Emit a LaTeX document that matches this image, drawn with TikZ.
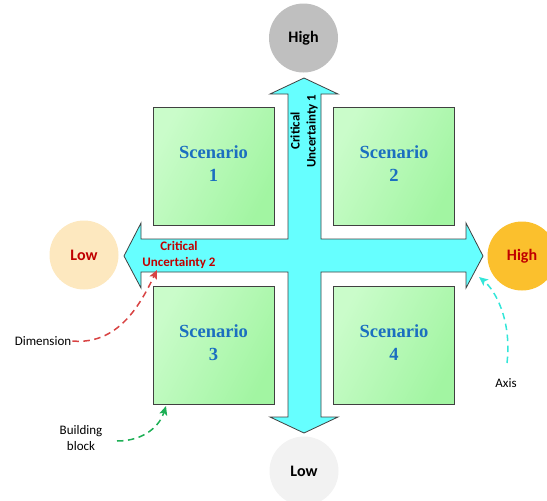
\documentclass[tikz,border=0pt]{standalone}
\usepackage{fontspec}
\setmainfont{Liberation Serif}
\newfontfamily\labelfont{Carlito}
\usetikzlibrary{arrows.meta}
\definecolor{crossfill}{HTML}{66FFFF}
\definecolor{outline}{HTML}{404040}
\definecolor{scenlight}{HTML}{CAFCCA}
\definecolor{scendark}{HTML}{A2F5A2}
\definecolor{scentext}{HTML}{1B6FC0}
\definecolor{darkred}{HTML}{C00000}
\definecolor{dimred}{HTML}{D84343}
\definecolor{blockgreen}{HTML}{1DAF55}
\definecolor{axiscyan}{HTML}{33E6D9}
\definecolor{lowpeach}{HTML}{FDE8BF}
\definecolor{highgold}{HTML}{FBC02D}
\tikzset{
  scenbox/.style={draw=outline, line width=0.8pt, minimum width=121pt, minimum height=118pt,
    shading=axis, left color=scenlight, right color=scendark, shading angle=62,
    inner sep=0pt},
  scentitle/.style={font=\fontsize{18.5}{23}\selectfont\bfseries, text=scentext,
    align=center, inner sep=0pt},
  pole/.style={circle, minimum size=69pt, inner sep=0pt,
    font=\labelfont\fontsize{16}{18}\selectfont\bfseries},
  axislabel/.style={font=\labelfont\fontsize{13}{16}\selectfont\bfseries, align=center, inner sep=0pt},
  note/.style={font=\labelfont\fontsize{13}{15.5}\selectfont, align=center, inner sep=1pt},
  pointer/.style={line width=1.5pt, dash pattern=on 6.5pt off 4.5pt,
    -{Stealth[length=9pt,width=8pt,inset=2pt,sep=0pt]}}
}
\begin{document}
\begin{tikzpicture}[x=1pt,y=-1pt]
\useasboundingbox (0,0) rectangle (547,501);
\clip (0,0) rectangle (547,501);

% the two crossing double-headed axes, drawn as one outline
\draw[fill=crossfill, draw=outline, line width=0.8pt, line join=miter]
  (304,78) -- (338,94) -- (321,94) -- (321,239) -- (466,239) -- (466,223)
  -- (483,256) -- (466,288) -- (466,272) -- (321,272) -- (321,417) -- (338,417)
  -- (304,433) -- (270,417) -- (288,417) -- (288,272) -- (141,272) -- (141,288)
  -- (124,256) -- (141,223) -- (141,239) -- (288,239) -- (288,94) -- (270,94) -- cycle;

% scenario quadrants
\node[scenbox] (s1) at (213.5,166) {};
\node[scenbox] (s2) at (394,166) {};
\node[scenbox] (s3) at (213.5,345) {};
\node[scenbox] (s4) at (394,345) {};
\foreach \b/\n in {s1/1,s2/2,s3/3,s4/4}
  \node[scentitle] (\b-title) at ([yshift=2pt]\b.center) {Scenario\\\n};

% axis labels
\node[axislabel, rotate=90] (cu1) at (304,131) {Critical\\Uncertainty 1};
\node[axislabel, text=darkred] (cu2) at (179,255) {Critical\\Uncertainty 2};

% poles of the axes
\node[pole, fill=black!25] (vhigh) at (303.5,38) {High};
\node[pole, fill=black!5] (vlow) at (304,471) {Low};
\node[pole, fill=lowpeach, text=darkred] (hlow) at (84,255) {Low};
\node[pole, fill=highgold, text=darkred] (hhigh) at (522,256) {High};

% annotations
\node[note] (dim) at (43,341) {Dimension};
\node[note] (blk) at (81,438) {Building\\block};
\node[note] (axs) at (506,383) {Axis};
\coordinate (dimtip) at (157,270);
\coordinate (blktip) at (166,406);
\coordinate (axstip) at (479,277);
\coordinate (blkstart) at (117,441);
\coordinate (axsstart) at (507,363);

\draw[pointer, draw=dimred] (dim.east) .. controls (118,345) and (140,305) .. (dimtip);
\draw[pointer, draw=blockgreen] (blkstart) .. controls (145,441) and (160,425) .. (blktip);
\draw[pointer, draw=axiscyan] (axsstart) .. controls (512,320) and (495,290) .. (axstip);
\end{tikzpicture}
\end{document}
